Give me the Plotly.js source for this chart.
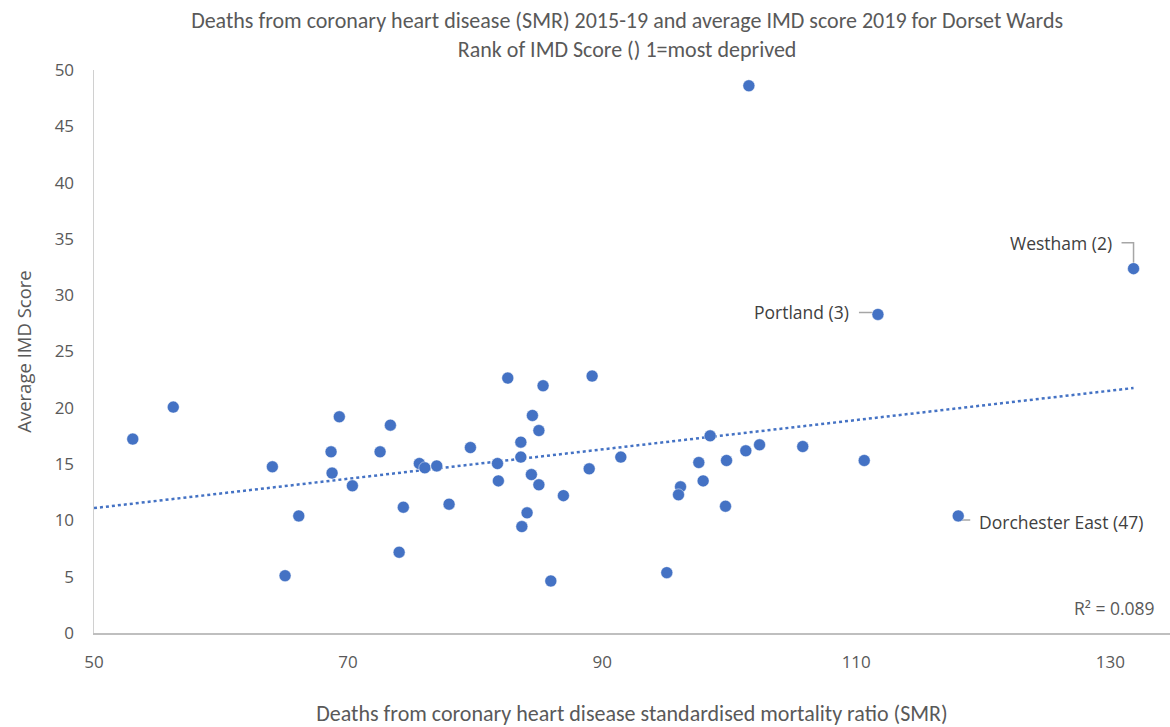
<!DOCTYPE html>
<html>
<head>
<meta charset="utf-8">
<script src="https://cdn.plot.ly/plotly-3.0.1.min.js"></script>
<style>html,body{margin:0;padding:0;background:#fff;}#chart{width:1170px;height:727px;}</style>
</head>
<body>
<div id="chart"></div>
<script>
// SMR (x) and average IMD score (y) for Dorset wards
const smr = [53.05, 56.24, 64.04, 65.04, 66.12, 68.66, 68.74, 69.31, 70.34, 72.52,
             73.33, 74.02, 74.35, 75.61, 76.04, 76.98, 77.95, 79.63, 81.76, 81.83,
             82.57, 83.6, 83.6, 83.68, 84.09, 84.43, 84.51, 85.02, 85.02, 85.35,
             85.96, 86.95, 88.98, 89.21, 91.47, 95.09, 96.17, 96.01, 97.61, 97.95,
             98.5, 99.71, 99.79, 101.31, 101.55, 102.39, 105.79, 110.63, 111.71, 118.03,
             131.83];
const imd = [17.22, 20.06, 14.76, 5.09, 10.4, 16.09, 14.2, 19.2, 13.07, 16.09,
             18.46, 7.17, 11.17, 15.05, 14.67, 14.84, 11.44, 16.47, 15.05, 13.51,
             22.64, 16.95, 15.62, 9.45, 10.67, 14.07, 19.32, 17.98, 13.16, 21.96,
             4.62, 12.2, 14.58, 22.82, 15.62, 5.36, 12.98, 12.27, 15.14, 13.51,
             17.51, 11.26, 15.32, 16.18, 48.6, 16.71, 16.56, 15.32, 28.29, 10.4,
             32.36];
// labelled wards: index into the arrays above
const labelNames = ["Westham (2)", "Portland (3)", "Dorchester East (47)"];
const labelIdx = [50, 48, 49];
const rSquaredText = "R\u00b2 = 0.089";
const xTicks = [50, 70, 90, 110, 130];
const yTicks = [0, 5, 10, 15, 20, 25, 30, 35, 40, 45, 50];

// least-squares trendline from the data
const n = smr.length;
const mx = smr.reduce((a, b) => a + b, 0) / n;
const my = imd.reduce((a, b) => a + b, 0) / n;
let sxy = 0, sxx = 0;
for (let i = 0; i < n; i++) { sxy += (smr[i] - mx) * (imd[i] - my); sxx += (smr[i] - mx) ** 2; }
const slope = sxy / sxx, intercept = my - slope * mx;
const trendX = [50, Math.max(...smr)];
const trendY = trendX.map(v => intercept + slope * v);

const grey = '#595959';
const labFam = "'Open Sans', 'Noto Sans', sans-serif";
const tickFont = {family: labFam, size: 17, color: grey};
const titleFontFam = "Carlito, 'Liberation Sans Narrow', 'Noto Sans', sans-serif";

const traces = [
  {x: trendX, y: trendY, mode: 'lines', type: 'scatter',
   line: {color: '#4472C4', width: 2.5, dash: 'dot'}, hoverinfo: 'skip'},
  {x: smr, y: imd, mode: 'markers', type: 'scatter',
   marker: {color: '#4472C4', size: 12, line: {color: 'rgba(255,255,255,0.6)', width: 0.8}}}
];

// label placement: [xanchor, xshift, yshift]
const labelPos = [['right', -20, 26], ['right', -27, 2], ['left', 19, -6]];
// leader lines in pixel offsets from the point
const leaderPaths = ['M0,0 L0,26 L-12,26', 'M0,0 L-6,2 L-19,2', 'M0,0 L4,-4 L12,-4'];

const annotations = labelIdx.map((k, j) => ({
  x: smr[k], y: imd[k], xref: 'x', yref: 'y', text: labelNames[j], showarrow: false,
  xanchor: labelPos[j][0], yanchor: 'middle', xshift: labelPos[j][1], yshift: labelPos[j][2],
  font: {family: labFam, size: 17.5, color: '#404040'}
}));
annotations.push({
  x: 0.988, y: 0.045, xref: 'paper', yref: 'paper', text: rSquaredText, showarrow: false,
  xanchor: 'right', yanchor: 'middle',
  font: {family: labFam, size: 17.5, color: grey}
});

const shapes = labelIdx.map((k, j) => ({
  type: 'path', xref: 'x', yref: 'y', xsizemode: 'pixel', ysizemode: 'pixel',
  xanchor: smr[k], yanchor: imd[k], path: leaderPaths[j],
  line: {color: '#A6A6A6', width: 1.5}, layer: 'below'
}));

const layout = {
  width: 1170, height: 727,
  margin: {l: 94, r: 0, t: 70, b: 94},
  paper_bgcolor: '#ffffff', plot_bgcolor: '#ffffff',
  showlegend: false,
  title: {
    text: 'Deaths from coronary heart disease (SMR) 2015-19 and average IMD score 2019 for Dorset Wards<br>Rank of IMD Score () 1=most deprived',
    x: 0.536, xanchor: 'center', y: 0.9615, yanchor: 'top',
    font: {family: titleFontFam, size: 22, color: grey}
  },
  xaxis: {
    range: [50, 134.7], tickvals: xTicks, showgrid: false, zeroline: false,
    showline: true, linecolor: '#BFBFBF', linewidth: 1.5, ticks: '',
    tickfont: tickFont, ticklabelstandoff: 13,
    title: {text: 'Deaths from coronary heart disease standardised mortality ratio (SMR)',
            font: {family: titleFontFam, size: 22, color: grey}, standoff: 34}
  },
  yaxis: {
    range: [0, 50], tickvals: yTicks, showgrid: false, zeroline: false,
    showline: true, linecolor: '#D0D0D0', linewidth: 1.5, ticks: '',
    tickfont: tickFont, ticklabelstandoff: 15,
    title: {text: 'Average IMD Score', font: {family: labFam, size: 18.5, color: grey}, standoff: 18}
  },
  annotations: annotations,
  shapes: shapes
};

Plotly.newPlot('chart', traces, layout, {displayModeBar: false, staticPlot: true});
</script>
</body>
</html>
